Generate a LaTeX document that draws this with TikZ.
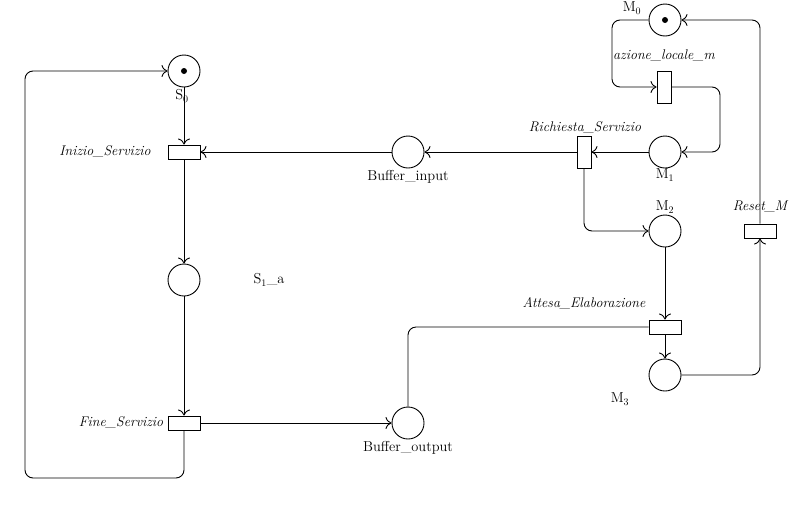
\documentclass[tikz,border=0pt]{standalone}
\usetikzlibrary{arrows.meta}
\begin{document}
\begin{tikzpicture}[x=1pt,y=-1pt,
  place/.style={circle,draw,line width=0.9pt,minimum size=32pt,inner sep=0pt},
  htrans/.style={rectangle,draw,line width=0.9pt,minimum width=32pt,minimum height=14pt,inner sep=0pt},
  vtrans/.style={rectangle,draw,line width=0.9pt,minimum width=14pt,minimum height=32pt,inner sep=0pt},
  tok/.style={circle,fill,inner sep=0pt,minimum size=6pt},
  lbl/.style={font=\fontsize{14.4}{16}\selectfont,inner sep=0pt},
  ilbl/.style={font=\fontsize{14}{16}\selectfont\itshape,inner sep=0pt},
  arc/.style={-{To[length=6pt,width=12pt]},line width=0.9pt,rounded corners=8pt}]
\useasboundingbox (0,0) rectangle (803,509);
% places
\node[place] (S0) at (184,71) {};
\node[tok] (S0t) at (184,71) {};
\node[place] (S1a) at (184,280) {};
\node[place] (Bin) at (408,152) {};
\node[place] (Bout) at (408,423) {};
\node[place] (M0) at (665,20) {};
\node[tok] (M0t) at (665,20) {};
\node[place] (M1) at (665,152) {};
\node[place] (M2) at (665,231) {};
\node[place] (M3) at (665,375) {};
% transitions
\node[htrans] (Ini) at (184,152) {};
\node[htrans] (Fine) at (184,423) {};
\node[vtrans] (Ric) at (584,152) {};
\node[vtrans] (Az) at (664,87) {};
\node[htrans] (Att) at (665,327) {};
\node[htrans] (Res) at (760,231) {};
% labels
\node[lbl] (lS0) at (182,96) {S$_0$};
\node[lbl] (lS1) at (269,280) {S$_1$\_a};
\node[lbl] (lBin) at (408,177) {Buffer\_input};
\node[lbl] (lBout) at (408,448) {Buffer\_output};
\node[lbl] (lM0) at (632,8) {M$_0$};
\node[lbl] (lM1) at (665,175) {M$_1$};
\node[lbl] (lM2) at (665,207) {M$_2$};
\node[lbl] (lM3) at (620,399) {M$_3$};
\node[ilbl] (lIni) at (105,152) {Inizio\_Servizio};
\node[ilbl] (lFine) at (121,423) {Fine\_Servizio};
\node[ilbl] (lRic) at (585,128) {Richiesta\_Servizio};
\node[ilbl] (lAz) at (664,56) {azione\_locale\_m};
\node[ilbl] (lAtt) at (584,303) {Attesa\_Elaborazione};
\node[ilbl] (lRes) at (760,207) {Reset\_M};
% arcs
\draw[arc] (S0) -- (Ini);
\draw[arc] (Ini) -- (S1a);
\draw[arc] (S1a) -- (Fine);
\draw[arc] (Fine) -- (Bout);
\draw[arc] (Fine.south) -- (184,478) -- (25,478) -- (25,71) -- (S0.west);
\draw[line width=0.9pt,rounded corners=8pt] (Bout.north) -- (408,327) -- (Att.west);
\draw[arc] (Att) -- (M3);
\draw[arc] (M2) -- (Att);
\draw[arc] (M3.east) -- (760,375) -- (Res.south);
\draw[arc] (Res.north) -- (760,20) -- (M0.east);
\draw[arc] (M0.west) -- (612,20) -- (612,87) -- (Az.west);
\draw[arc] (Az.east) -- (720,87) -- (720,152) -- (M1.east);
\draw[arc] (M1) -- (Ric);
\draw[arc] (Ric) -- (Bin);
\draw[arc] (Bin) -- (Ini);
\draw[arc] (Ric.south) -- (584,231) -- (M2.west);
\end{tikzpicture}
\end{document}
